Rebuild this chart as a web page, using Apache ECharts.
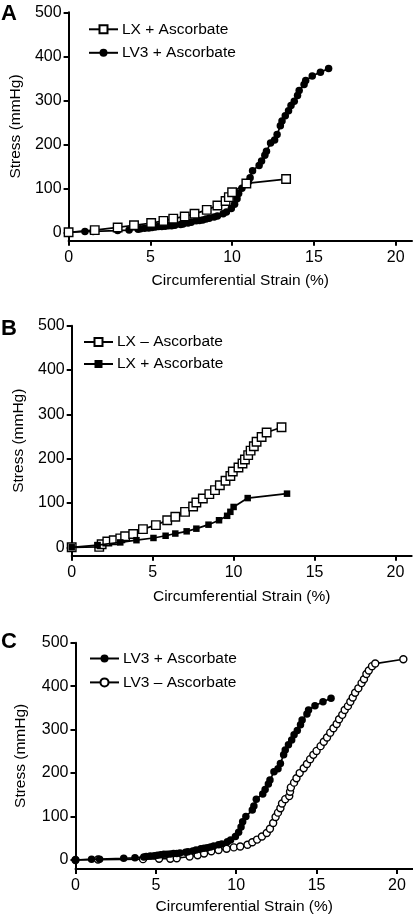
<!DOCTYPE html>
<html>
<head>
<meta charset="utf-8">
<script src="https://cdn.jsdelivr.net/npm/echarts@6/dist/echarts.min.js"></script>
<style>
html,body{margin:0;padding:0;background:#fff;}
#chart{width:413px;height:917px;}
</style>
</head>
<body>
<div id="chart"></div>
<script>
// ---- data (strain %, stress mmHg) ----
const strainTicks = [0, 5, 10, 15, 20];
const stressTicks = [0, 100, 200, 300, 400, 500];
const panelLetters = ['A', 'B', 'C'];
const xTitle = 'Circumferential Strain (%)';
const yTitle = 'Stress (mmHg)';

const lxPlusAsc = [[0,0],[1.6,5],[3.0,11],[4.0,16],[5.05,21],[5.8,26],[6.4,31],[7.1,36],[7.7,42],[8.45,51],[9.1,61],[9.6,71],[9.8,80],[10.0,91],[10.87,111],[13.3,121]];
const lxMinusAsc = [[0,0],[1.7,1],[1.85,7],[2.2,13],[2.6,16],[3.0,20],[3.3,25],[3.8,30],[4.4,41],[5.2,50],[5.9,61],[6.4,69],[7.0,80],[7.5,92],[7.7,101],[8.1,110],[8.5,120],[8.85,129],[9.15,140],[9.5,150],[9.8,161],[9.95,171],[10.3,180],[10.55,189],[10.7,198],[10.9,208],[11.05,218],[11.25,228],[11.42,238],[11.73,249],[12.04,259],[12.96,271]];
const lv3PlusAsc = [[0,0],[1.0,2],[1.5,2],[3.0,4],[3.7,5],[4.25,7],[4.4,8],[4.65,9],[4.9,10],[5.1,11],[5.3,12],[5.5,13],[5.7,13],[5.9,14],[6.1,15],[6.3,15],[6.5,16],[6.85,18],[7.0,19],[7.3,21],[7.5,23],[7.8,26],[8.0,27],[8.2,28],[8.4,30],[8.6,32],[8.9,35],[9.1,37],[9.45,42],[9.65,46],[9.95,54],[10.15,64],[10.3,76],[10.4,88],[10.6,100],[11.0,115],[11.1,124],[11.25,140],[11.65,152],[11.8,162],[12.0,175],[12.1,184],[12.35,203],[12.6,210],[12.75,222],[12.95,242],[13.05,253],[13.25,265],[13.45,276],[13.6,288],[13.8,298],[14.0,311],[14.1,322],[14.4,336],[14.5,345],[14.9,355],[15.4,364],[15.9,372]];
const lv3MinusAsc = [[0,0],[1.4,1],[4.2,2],[5.2,3],[5.9,3],[6.3,4],[7.1,8],[7.6,11],[8.0,15],[8.45,20],[8.9,23],[9.4,26],[9.85,29],[10.25,31],[10.7,35],[11.0,41],[11.3,47],[11.6,54],[11.9,62],[12.1,72],[12.3,85],[12.45,99],[12.6,109],[12.75,119],[12.85,130],[13.05,140],[13.3,147],[13.35,157],[13.4,167],[13.6,178],[13.75,188],[13.95,200],[14.2,211],[14.4,221],[14.6,232],[14.8,242],[15.0,251],[15.25,262],[15.45,272],[15.65,282],[15.85,293],[16.05,303],[16.25,313],[16.4,324],[16.6,334],[16.75,345],[16.95,354],[17.1,364],[17.25,374],[17.4,385],[17.6,395],[17.8,407],[17.95,416],[18.1,428],[18.25,436],[18.45,446],[18.65,452],[20.4,462]];

// ---- layout ----
const FF = '"Liberation Sans", Arial, sans-serif';
const grids = [
  {left: 68, top: 12.3, width: 344, height: 228.4, ymin: -19.1, yGap: 44, xGap: 32},
  {left: 71.7, top: 325.7, width: 340, height: 230, ymin: -19, yGap: 45, xGap: 33},
  {left: 75.5, top: 642.7, width: 337.5, height: 226.3, ymin: -20.7, yGap: 47, xGap: 30}
];
const legendPos = [
  {left: 88, top: 21.3, itemGap: 7.5},
  {left: 83, top: 334, itemGap: 6},
  {left: 89, top: 650.5, itemGap: 7.9}
];
const letterTops = [3, 318, 631];

const axisLineStyle = {color: '#000', width: 2};

const option = {
  animation: false,
  backgroundColor: '#fff',
  textStyle: {fontFamily: FF},
  title: panelLetters.map((t, i) => ({
    text: t, left: 1, top: letterTops[i], padding: 0,
    textStyle: {fontFamily: FF, fontSize: 22, fontWeight: 'bold', color: '#000'}
  })),
  grid: grids.map(g => ({left: g.left, top: g.top, width: g.width, height: g.height, containLabel: false})),
  xAxis: grids.map((g, i) => ({
    type: 'value', gridIndex: i, min: 0, max: 21,
    name: xTitle, nameLocation: 'middle', nameGap: g.xGap,
    nameTextStyle: {fontFamily: FF, fontSize: 15.5, color: '#000'},
    axisLine: {show: true, onZero: false, lineStyle: axisLineStyle},
    axisTick: {show: true, length: 5, lineStyle: {color: '#000', width: 2}, customValues: strainTicks},
    axisLabel: {fontFamily: FF, fontSize: 16, color: '#000', margin: 9, customValues: strainTicks},
    splitLine: {show: false}
  })),
  yAxis: grids.map((g, i) => ({
    type: 'value', gridIndex: i, min: g.ymin, max: 500,
    name: yTitle, nameLocation: 'middle', nameGap: g.yGap,
    nameTextStyle: {fontFamily: FF, fontSize: 15.5, color: '#000'},
    axisLine: {show: true, onZero: false, lineStyle: axisLineStyle},
    axisTick: {show: true, length: 5, lineStyle: {color: '#000', width: 2}, customValues: stressTicks},
    axisLabel: {fontFamily: FF, fontSize: 16, color: '#000', margin: 7, customValues: stressTicks},
    splitLine: {show: false}
  })),
  legend: [
    ['A|LX + Ascorbate', 'A|LV3 + Ascorbate'],
    ['B|LX – Ascorbate', 'B|LX + Ascorbate'],
    ['C|LV3 + Ascorbate', 'C|LV3 – Ascorbate']
  ].map((d, i) => ({
    data: d, orient: 'vertical', left: legendPos[i].left, top: legendPos[i].top,
    itemGap: legendPos[i].itemGap, itemWidth: 29, itemHeight: 10, padding: 0,
    selectedMode: false,
    formatter: n => n.split('|')[1],
    textStyle: {fontFamily: FF, fontSize: 15.5, color: '#000', padding: [0, 0, 0, -1]}
  })),
  series: []
};

function mk(name, gi, data, symbol, size, filled, z) {
  return {
    type: 'line', name, xAxisIndex: gi, yAxisIndex: gi, data,
    symbol, symbolSize: size, showSymbol: true, showAllSymbol: true, z,
    lineStyle: {color: '#000', width: 1.7},
    itemStyle: filled ? {color: '#000', borderColor: '#000', borderWidth: 0}
                      : {color: '#fff', borderColor: '#000', borderWidth: 1.4},
    emphasis: {disabled: true}
  };
}
option.series = [
  mk('A|LV3 + Ascorbate', 0, lv3PlusAsc, 'circle', 7.5, true, 2),
  mk('A|LX + Ascorbate', 0, lxPlusAsc, 'rect', 8.5, false, 3),
  mk('B|LX – Ascorbate', 1, lxMinusAsc, 'rect', 8.5, false, 2),
  mk('B|LX + Ascorbate', 1, lxPlusAsc, 'rect', 6.5, true, 3),
  mk('C|LV3 – Ascorbate', 2, lv3MinusAsc, 'circle', 7, false, 2),
  mk('C|LV3 + Ascorbate', 2, lv3PlusAsc, 'circle', 7.5, true, 3)
];

const chart = echarts.init(document.getElementById('chart'), null, {renderer: 'canvas'});
chart.setOption(option);
</script>
</body>
</html>
